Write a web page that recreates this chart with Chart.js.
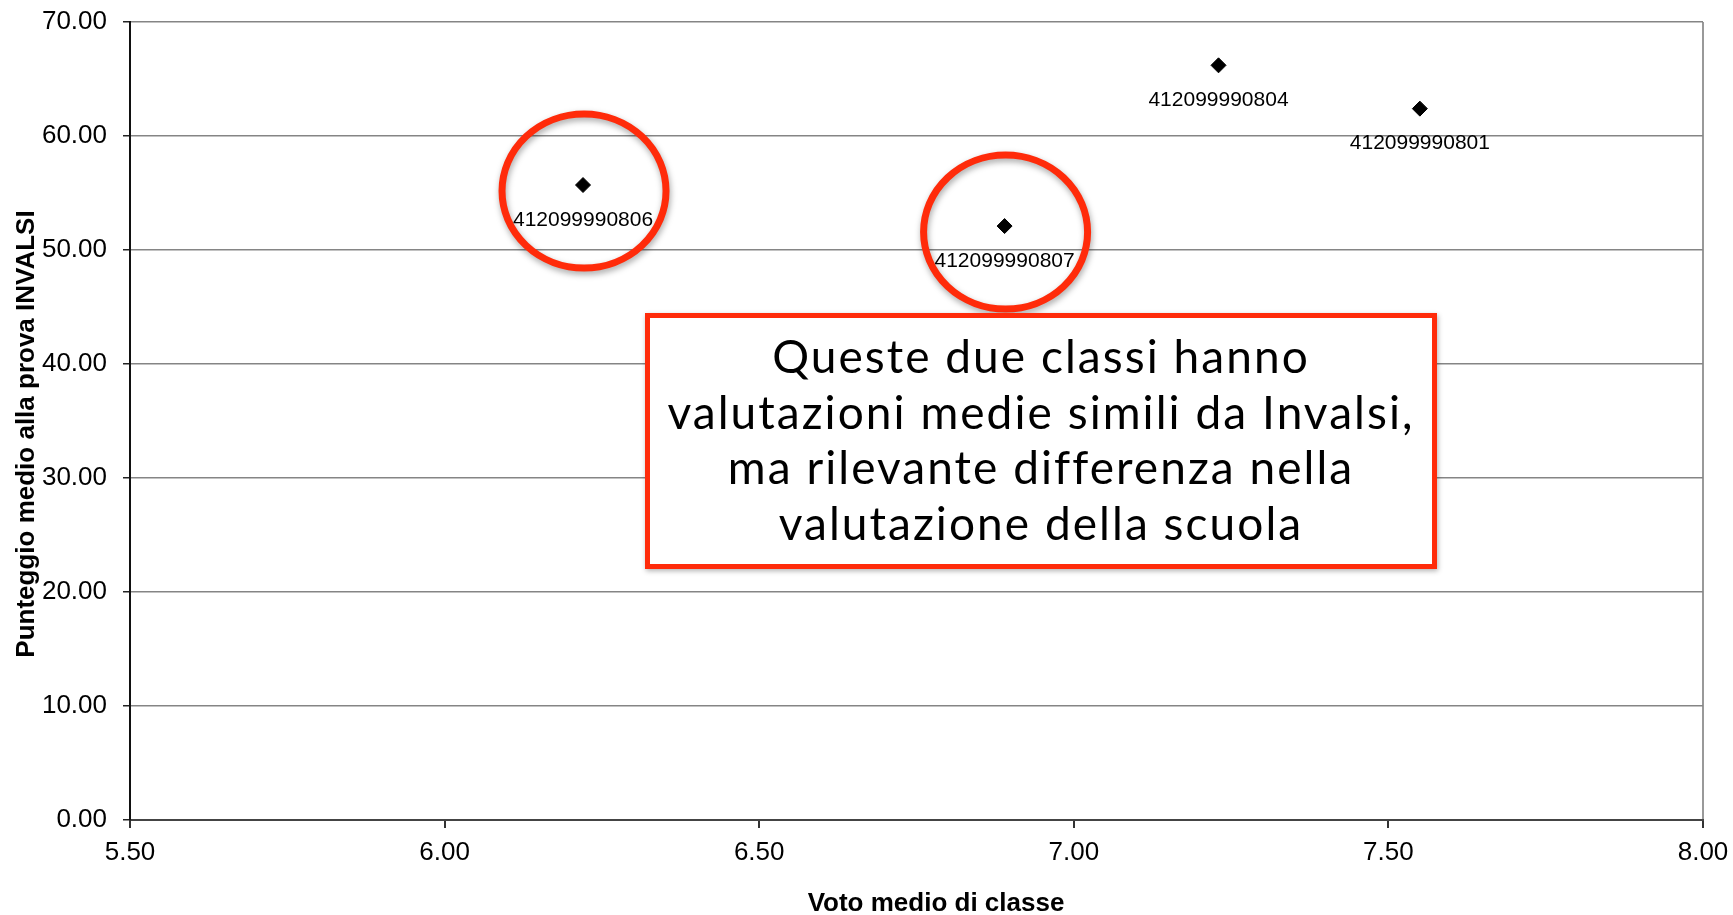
<!DOCTYPE html>
<html>
<head>
<meta charset="utf-8">
<script src="https://cdn.jsdelivr.net/npm/chart.js@4.4.1/dist/chart.umd.min.js"></script>
<style>
    html, body { margin: 0; padding: 0; background: #fff; }
    canvas { display: block; }
</style>
</head>
<body>
<canvas id="grafico" width="1733" height="915"></canvas>
<script>
// dati
const classi = ['412099990806', '412099990807', '412099990804', '412099990801'];
const votoMedio = [6.22, 6.89, 7.23, 7.55];
const punteggioMedio = [55.7, 52.1, 66.2, 62.4];
const ticksX = [5.5, 6.0, 6.5, 7.0, 7.5, 8.0];
const ticksY = [0, 10, 20, 30, 40, 50, 60, 70];
const evidenziate = ['412099990806', '412099990807'];
const testoBox = [
    'Queste due classi hanno',
    'valutazioni medie simili da Invalsi,',
    'ma rilevante differenza nella',
    'valutazione della scuola'
];
const titoloX = 'Voto medio di classe';
const titoloY = 'Punteggio medio alla prova INVALSI';

const FONT = '"Liberation Sans", Arial, sans-serif';
const ROSSO = '#ff2b0a';

const punti = votoMedio.map((v, i) => ({ x: v, y: punteggioMedio[i] }));

// niente padding automatico delle etichette, lo decide layout.padding
function senzaPadding(s) {
    s.paddingTop = 0;
    s.paddingBottom = 0;
    s.paddingLeft = 0;
    s.paddingRight = 0;
}

const extra = {
    id: 'extra',
    beforeDatasetsDraw(chart) {
        // cerchi rossi attorno alle classi evidenziate
        const ctx = chart.ctx;
        const sx = chart.scales.x, sy = chart.scales.y;
        evidenziate.forEach(c => {
            const i = classi.indexOf(c);
            const px = sx.getPixelForValue(votoMedio[i]);
            const py = sy.getPixelForValue(punteggioMedio[i]);
            ctx.save();
            ctx.shadowColor = 'rgba(0,0,0,0.35)';
            ctx.shadowBlur = 6;
            ctx.shadowOffsetX = 1;
            ctx.shadowOffsetY = 3;
            ctx.strokeStyle = ROSSO;
            ctx.lineWidth = 7;
            ctx.beginPath();
            ctx.ellipse(px + 1, py + 6, 82, 77, 0, 0, Math.PI * 2);
            ctx.stroke();
            ctx.restore();
        });
    },
    afterDatasetsDraw(chart) {
        // etichette sotto i punti
        const ctx = chart.ctx;
        const meta = chart.getDatasetMeta(0);
        ctx.save();
        ctx.font = '21px ' + FONT;
        ctx.fillStyle = '#000';
        ctx.textAlign = 'center';
        ctx.textBaseline = 'middle';
        meta.data.forEach((p, i) => {
            ctx.fillText(classi[i], p.x, p.y + 35);
        });
        ctx.restore();
    },
    afterDraw(chart) {
        const ctx = chart.ctx;

        // riquadro con il commento
        const bx = 645, by = 313, bw = 792, bh = 256;
        ctx.save();
        ctx.shadowColor = 'rgba(0,0,0,0.3)';
        ctx.shadowBlur = 5;
        ctx.shadowOffsetX = 1;
        ctx.shadowOffsetY = 2;
        ctx.fillStyle = '#fff';
        ctx.fillRect(bx, by, bw, bh);
        ctx.restore();
        ctx.save();
        ctx.strokeStyle = ROSSO;
        ctx.lineWidth = 5;
        ctx.strokeRect(bx + 2.5, by + 2.5, bw - 5, bh - 5);

        ctx.font = '46px Lato, ' + FONT;
        ctx.fillStyle = '#000';
        ctx.textAlign = 'center';
        ctx.textBaseline = 'alphabetic';
        let largo = ctx.measureText(testoBox[1]).width;
        if ('letterSpacing' in ctx) {
            const extraSp = (747 - largo) / testoBox[1].length;
            ctx.letterSpacing = extraSp.toFixed(2) + 'px';
            largo = ctx.measureText(testoBox[1]).width;
        }
        const scala = 747 / largo;
        const cx = bx + bw / 2;
        testoBox.forEach((riga, i) => {
            ctx.save();
            ctx.translate(cx, by + 60 + i * 55.7);
            ctx.scale(scala, 1);
            ctx.fillText(riga, 0, 0);
            ctx.restore();
        });
        ctx.restore();

        // titoli degli assi
        ctx.save();
        ctx.font = 'bold 26px ' + FONT;
        ctx.fillStyle = '#000';
        ctx.textAlign = 'center';
        ctx.textBaseline = 'middle';
        ctx.fillText(titoloX, 936, 904);
        ctx.translate(27, 434);
        ctx.rotate(-Math.PI / 2);
        ctx.fillText(titoloY, 0, 0);
        ctx.restore();
    }
};

new Chart(document.getElementById('grafico'), {
    type: 'scatter',
    data: {
        datasets: [{
            data: punti,
            pointStyle: 'rectRot',
            pointRadius: 7.5,
            pointHoverRadius: 7.5,
            backgroundColor: '#000',
            borderColor: '#000',
            borderWidth: 1
        }]
    },
    options: {
        responsive: false,
        animation: false,
        devicePixelRatio: 1,
        layout: { padding: { left: 0, top: 22, right: 30, bottom: 0 } },
        plugins: {
            legend: { display: false },
            tooltip: { enabled: false }
        },
        scales: {
            x: {
                type: 'linear',
                min: 5.5,
                max: 8,
                afterBuildTicks: s => { s.ticks = ticksX.map(v => ({ value: v })); },
                afterFit: s => { s.height = 95; senzaPadding(s); },
                ticks: {
                    color: '#000',
                    font: { family: FONT, size: 26 },
                    padding: 9,
                    maxRotation: 0,
                    callback: v => Number(v).toFixed(2)
                },
                grid: {
                    color: c => c.index === ticksX.length - 1 ? '#999' : 'rgba(0,0,0,0)',
                    lineWidth: 2,
                    tickColor: '#333',
                    tickLength: 8
                },
                border: { color: '#444', width: 2 }
            },
            y: {
                type: 'linear',
                min: 0,
                max: 70,
                afterBuildTicks: s => { s.ticks = ticksY.map(v => ({ value: v })); },
                afterFit: s => { s.width = 130; senzaPadding(s); },
                ticks: {
                    color: '#000',
                    font: { family: FONT, size: 26 },
                    padding: 16,
                    callback: v => Number(v).toFixed(2)
                },
                grid: {
                    color: '#858585',
                    lineWidth: 1.5,
                    tickColor: '#222',
                    tickLength: 7
                },
                border: { color: '#111', width: 2 }
            }
        }
    },
    plugins: [extra]
});
</script>
</body>
</html>
